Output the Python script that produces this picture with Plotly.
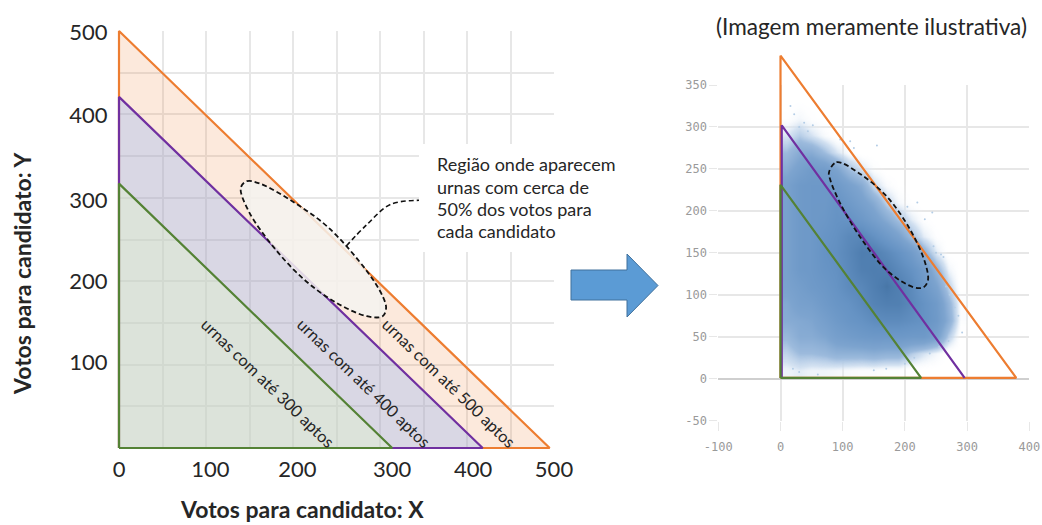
import plotly.graph_objects as go

W, H = 1042, 525

# ---------- left chart data ----------
orange_x = [0, 0, 495, 0]
orange_y = [0, 500, 0, 0]
purple_x = [0, 0, 418, 0]
purple_y = [0, 421, 0, 0]
green_x = [0, 0, 314, 0]
green_y = [0, 317, 0, 0]
ellipse_x = [140, 147, 162, 202, 241, 285, 303, 307, 303, 285, 250, 215, 180, 149, 140]
ellipse_y = [312, 320, 317, 294, 264, 212, 182, 168, 158, 158, 174, 200, 238, 284, 312]
connector_x = [261, 285, 312, 345]
connector_y = [242, 268, 292, 297]
left_grid = [0, 50, 100, 150, 200, 250, 300, 350, 400, 450, 500]
left_xlabel_pos = [0, 105, 205, 314, 407, 500]
left_ylabel_pos = [103, 200, 297, 399, 498]
left_xlabels = ["0", "100", "200", "300", "400", "500"]
left_ylabels = ["100", "200", "300", "400", "500"]

# ---------- right chart data ----------
r_orange_x = [0, 0, 379, 0]
r_orange_y = [1, 385, 1, 1]
r_purple_x = [2, 2, 296]
r_purple_y = [1, 302, 1]
r_green_x = [0, 0, 226, 0]
r_green_y = [1, 231, 1, 1]
r_ellipse_x = [78, 90, 128, 171, 209, 233, 237, 230, 214, 171, 128, 96, 80, 78]
r_ellipse_y = [246, 258, 244, 217, 177, 137, 117, 109, 109, 129, 169, 209, 237, 246]
density_x = [10, 30, 50, 70, 90, 110, 130, 150, 170, 190, 210, 230, 250, 270, 290]
density_y = [10, 30, 50, 70, 90, 110, 130, 150, 170, 190, 210, 230, 250, 270, 290, 310, 330]
density_z = [
    [0.6, 0.8, 0.6, 0.6, 0.5, 0.4, 0.3, 0.3, 0.2, 0.2, 0, 0, 0, 0, 0],
    [1.4, 2, 2, 2.2, 2.6, 2.6, 2.6, 2.8, 2.6, 2.6, 1.6, 1, 0.5, 0, 0],
    [2.2, 3, 3, 3.4, 4.2, 4.6, 5, 5.2, 5.2, 5.2, 5, 5, 4, 1.5, 0],
    [3, 3.2, 3.4, 4.2, 5, 5.6, 6, 6.6, 6.8, 6.8, 6.4, 6, 5, 2.8, 0.3],
    [3.2, 4, 4.2, 5, 5.6, 6, 6.8, 7.6, 8, 8, 7, 6, 4.8, 2.4, 0.3],
    [3.8, 4.4, 5, 5.4, 6, 6.8, 7.2, 8, 8.8, 8, 6.8, 5.2, 3.6, 1.4, 0],
    [4, 5, 5.2, 5.8, 6.2, 7, 8, 8.2, 8, 7, 6, 4.6, 2.4, 0.6, 0],
    [4, 5, 5.2, 6, 6.4, 7.2, 8.2, 8, 7, 6, 4.6, 2.6, 0.8, 0, 0],
    [4, 5, 5.2, 5.8, 6.2, 7, 7.2, 6.2, 5, 3.8, 2, 0.8, 0.2, 0, 0],
    [4, 5, 5.2, 5.4, 6, 6, 5.2, 4.2, 3, 1.8, 0.8, 0.2, 0, 0, 0],
    [4, 5, 5.2, 5.2, 5.8, 5, 4, 3, 1.4, 0.5, 0.1, 0, 0, 0, 0],
    [4, 5, 5.2, 5.2, 5, 4, 3, 1.2, 0.4, 0.1, 0, 0, 0, 0, 0],
    [3, 4, 4.8, 4.6, 3.6, 2, 1, 0.3, 0, 0, 0, 0, 0, 0, 0],
    [2, 3, 3, 2, 1, 0.3, 0, 0, 0, 0, 0, 0, 0, 0, 0],
    [0.9, 1.6, 1, 0.4, 0, 0, 0, 0, 0, 0, 0, 0, 0, 0, 0],
    [0.2, 0.5, 0.2, 0, 0, 0, 0, 0, 0, 0, 0, 0, 0, 0, 0],
    [0, 0.1, 0, 0, 0, 0, 0, 0, 0, 0, 0, 0, 0, 0, 0],
]
stray_x = [16, 22, 30, 38, 44, 52, 96, 112, 118, 155, 176, 186, 204, 220, 232, 244, 246, 250,
           258, 262, 266, 272, 280, 286, 292, 270, 255, 240, 215, 200, 170, 150, 60, 30, 20]
stray_y = [325, 315, 300, 305, 295, 302, 285, 283, 275, 278, 210, 202, 205, 210, 190, 198, 158,
           150, 148, 145, 110, 100, 85, 75, 55, 45, 38, 30, 25, 18, 12, 10, 5, 8, 12]
r_xticks = [-100, 0, 100, 200, 300, 400]
r_xlabels = ["-100", "0", "100", "200", "300", "400"]
r_yticks = [-50, 0, 50, 100, 150, 200, 250, 300, 350]
r_ylabels = ["-50", "0", "50", "100", "150", "200", "250", "300", "350"]

GRID = "#E7E7E7"
ORANGE = "#ED7D31"
PURPLE = "#7030A0"
GREEN = "#548235"
TEXT = "#262626"
DASH = "5px,3px"

fig = go.Figure()


def left_poly(x, y, line, fill):
    fig.add_trace(go.Scatter(x=x, y=y, mode="lines", xaxis="x4", yaxis="y4", fill="toself",
                             fillcolor=fill, line=dict(color=line, width=2.2), hoverinfo="skip"))


# invisible traces that carry the grid and the label axes
fig.add_trace(go.Scatter(x=[0], y=[0], mode="markers", xaxis="x", yaxis="y",
                         marker=dict(opacity=0), hoverinfo="skip"))
fig.add_trace(go.Scatter(x=[0], y=[0], mode="markers", xaxis="x3", yaxis="y3",
                         marker=dict(opacity=0), hoverinfo="skip"))
left_poly(orange_x, orange_y, ORANGE, "rgba(237,125,49,0.17)")
left_poly(purple_x, purple_y, PURPLE, "rgba(137,176,250,0.3)")
left_poly(green_x, green_y, GREEN, "rgba(230,255,196,0.3)")
fig.add_trace(go.Scatter(x=ellipse_x, y=ellipse_y, mode="lines", xaxis="x4", yaxis="y4",
                         fill="toself", fillcolor="rgba(245,243,240,0.85)",
                         line=dict(color="#111111", width=1.8, dash=DASH, shape="spline", smoothing=1),
                         hoverinfo="skip"))
fig.add_trace(go.Scatter(x=connector_x, y=connector_y, mode="lines", xaxis="x4", yaxis="y4",
                         line=dict(color="#111111", width=1.6, dash=DASH, shape="spline", smoothing=1),
                         hoverinfo="skip"))

# right chart
fig.add_trace(go.Heatmap(x=density_x, y=density_y, z=density_z, xaxis="x2", yaxis="y2",
                         zmin=0, zmax=10, zsmooth="best", showscale=False, hoverinfo="skip",
                         colorscale=[[0, "rgba(255,255,255,0)"], [0.1, "rgba(200,218,238,0.8)"],
                                     [0.2, "#9DBBDD"], [0.35, "#7DA4CF"], [0.6, "#6693C4"],
                                     [0.85, "#4C7BAD"], [1, "#3A6690"]]))
fig.add_trace(go.Scatter(x=stray_x, y=stray_y, mode="markers", xaxis="x2", yaxis="y2",
                         marker=dict(color="#B4CDE6", size=2), hoverinfo="skip"))
for x, y, c in [(r_orange_x, r_orange_y, ORANGE), (r_purple_x, r_purple_y, PURPLE), (r_green_x, r_green_y, GREEN)]:
    fig.add_trace(go.Scatter(x=x, y=y, mode="lines", xaxis="x5", yaxis="y5",
                             line=dict(color=c, width=2.2), hoverinfo="skip"))
fig.add_trace(go.Scatter(x=r_ellipse_x, y=r_ellipse_y, mode="lines", xaxis="x5", yaxis="y5",
                         line=dict(color="#111111", width=1.8, dash=DASH, shape="spline", smoothing=1),
                         hoverinfo="skip"))


def px_x(p):
    return p / W


def px_y(p):
    return 1 - p / H


L, R, T, B = 119, 554, 31, 448
RL, RR, RT, RB = 718.3, 1029.3, 85, 420.7
LEFT_DX = [px_x(L), px_x(R)]
LEFT_DY = [px_y(B), px_y(T)]
RIGHT_DX = [px_x(RL), px_x(RR)]
RIGHT_DY = [px_y(RB), px_y(RT)]
# wider, invisible axes on the same scale, so that lines are not clipped at the plot edge
PAD = 20
sx, sy = (R - L) / 500, (B - T) / 500
LEFT_WIDE_DX = [px_x(L - PAD * sx), px_x(R + PAD * sx)]
LEFT_WIDE_DY = [px_y(B + PAD * sy), px_y(T - PAD * sy)]
RIGHT_WIDE_DY = [px_y(RB), px_y(RT - 50 * (RB - RT) / 400)]

arrow = [(571, 270), (627, 270), (627, 254), (658, 285.5), (627, 317), (627, 300), (571, 300)]
arrow_path = "M" + " L".join(f"{px_x(a):.5f},{px_y(b):.5f}" for a, b in arrow) + " Z"

shapes = [
    dict(type="rect", xref="paper", yref="paper", x0=px_x(419), x1=px_x(630), y0=px_y(252), y1=px_y(144),
         fillcolor="white", line=dict(width=0), layer="above"),
    dict(type="path", xref="paper", yref="paper", path=arrow_path, fillcolor="#5B9BD5",
         line=dict(color="#41719C", width=1), layer="above"),
]


def note(text, x, y, size, angle=0, bold=False, anchor="center"):
    return dict(text=f"<b>{text}</b>" if bold else text, x=px_x(x), y=px_y(y), xref="paper", yref="paper",
                showarrow=False, xanchor=anchor, yanchor="middle", textangle=angle,
                font=dict(family="Lato", size=size, color=TEXT))


annotations = [
    note("Votos para candidato: X", 302, 509, 23, bold=True),
    note("Votos para candidato: Y", 22, 274, 23, angle=-90, bold=True),
    note("urnas com até 300 aptos", 268, 382, 16.4, angle=44),
    note("urnas com até 400 aptos", 364, 382, 16.4, angle=44),
    note("urnas com até 500 aptos", 449, 382, 16.4, angle=44),
    note("Região onde aparecem", 435, 164, 18, anchor="left"),
    note("urnas com cerca de", 435, 187, 18, anchor="left"),
    note("50% dos votos para", 435, 209, 18, anchor="left"),
    note("cada candidato", 435, 231, 18, anchor="left"),
    note("(Imagem meramente ilustrativa)", 871, 27, 22.6),
]

hidden = dict(visible=False, automargin=False, showgrid=False, zeroline=False)
mono = dict(family="DejaVu Sans Mono", size=12, color="#9A9A9A")
fig.update_layout(
    width=W, height=H, margin=dict(l=0, r=0, t=0, b=0), showlegend=False,
    paper_bgcolor="white", plot_bgcolor="rgba(0,0,0,0)", shapes=shapes, annotations=annotations,
    xaxis=dict(domain=LEFT_DX, range=[0, 500], tickvals=left_grid, showticklabels=False, ticks="",
               showgrid=True, gridcolor=GRID, gridwidth=1.5, zeroline=False, anchor="y", automargin=False),
    yaxis=dict(domain=LEFT_DY, range=[0, 500], tickvals=left_grid, showticklabels=False, ticks="",
               showgrid=True, gridcolor=GRID, gridwidth=1.5, zeroline=False, anchor="x", automargin=False),
    xaxis3=dict(domain=LEFT_DX, range=[0, 500], overlaying="x", anchor="y3", tickvals=left_xlabel_pos,
                ticktext=left_xlabels, showgrid=False, zeroline=False, ticks="outside", ticklen=2,
                tickcolor="rgba(0,0,0,0)", tickfont=dict(family="Lato", size=22, color=TEXT), tickangle=0,
                automargin=False),
    yaxis3=dict(domain=LEFT_DY, range=[0, 500], overlaying="y", anchor="x3", tickvals=left_ylabel_pos,
                ticktext=left_ylabels, showgrid=False, zeroline=False, ticks="outside", ticklen=6,
                tickcolor="rgba(0,0,0,0)", tickfont=dict(family="Lato", size=22, color=TEXT),
                automargin=False),
    xaxis4=dict(domain=LEFT_WIDE_DX, range=[-PAD, 500 + PAD], anchor="y4", **hidden),
    yaxis4=dict(domain=LEFT_WIDE_DY, range=[-PAD, 500 + PAD], anchor="x4", **hidden),
    xaxis2=dict(domain=RIGHT_DX, range=[-100, 400], tickvals=r_xticks, ticktext=r_xlabels, showgrid=True,
                gridcolor=GRID, gridwidth=1.5, zeroline=False, anchor="y2", ticks="outside", ticklen=9,
                tickcolor=GRID, ticklabelstandoff=6, tickfont=mono, tickangle=0, automargin=False),
    yaxis2=dict(domain=RIGHT_DY, range=[-50, 350], tickvals=r_yticks, ticktext=r_ylabels, showgrid=True,
                gridcolor=GRID, gridwidth=1.5, zeroline=True, zerolinecolor="#CFCFCF", zerolinewidth=2,
                anchor="x2", ticks="outside", ticklen=8, tickcolor=GRID, tickfont=mono, automargin=False),
    xaxis5=dict(domain=RIGHT_DX, range=[-100, 400], anchor="y5", **hidden),
    yaxis5=dict(domain=RIGHT_WIDE_DY, range=[-50, 400], anchor="x5", **hidden),
)

fig.write_html("out.html", config=dict(displayModeBar=False),
               post_script="document.body.style.margin='0';document.body.style.overflow='hidden';")
